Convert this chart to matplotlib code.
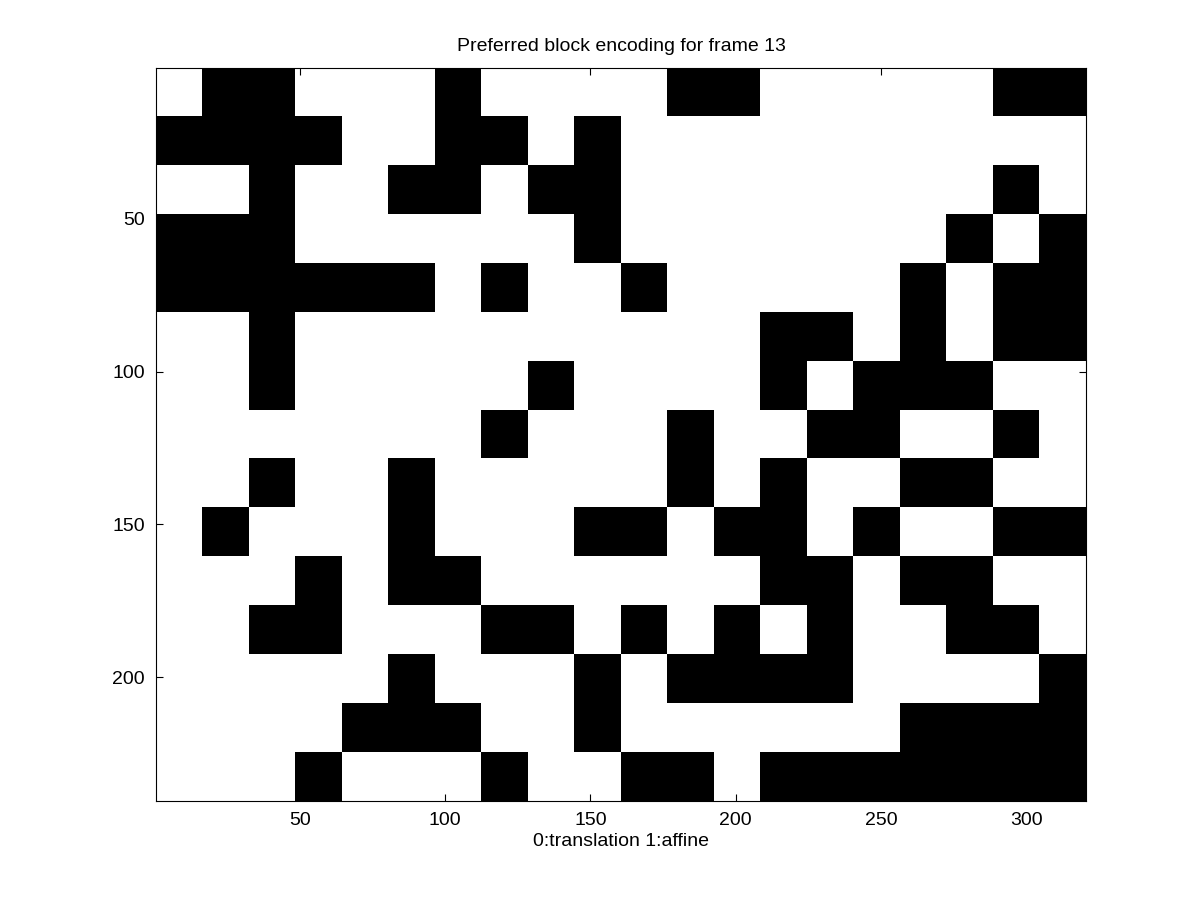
import numpy as np
import matplotlib
matplotlib.use("Agg")
import matplotlib.pyplot as plt

plt.rcParams['font.family'] = ['Liberation Sans', 'DejaVu Sans']

# block decisions per 16x16 block (0 = translation, 1 = affine)
blocks = [
    [0, 1, 1, 0, 0, 0, 1, 0, 0, 0, 0, 1, 1, 0, 0, 0, 0, 0, 1, 1],
    [1, 1, 1, 1, 0, 0, 1, 1, 0, 1, 0, 0, 0, 0, 0, 0, 0, 0, 0, 0],
    [0, 0, 1, 0, 0, 1, 1, 0, 1, 1, 0, 0, 0, 0, 0, 0, 0, 0, 1, 0],
    [1, 1, 1, 0, 0, 0, 0, 0, 0, 1, 0, 0, 0, 0, 0, 0, 0, 1, 0, 1],
    [1, 1, 1, 1, 1, 1, 0, 1, 0, 0, 1, 0, 0, 0, 0, 0, 1, 0, 1, 1],
    [0, 0, 1, 0, 0, 0, 0, 0, 0, 0, 0, 0, 0, 1, 1, 0, 1, 0, 1, 1],
    [0, 0, 1, 0, 0, 0, 0, 0, 1, 0, 0, 0, 0, 1, 0, 1, 1, 1, 0, 0],
    [0, 0, 0, 0, 0, 0, 0, 1, 0, 0, 0, 1, 0, 0, 1, 1, 0, 0, 1, 0],
    [0, 0, 1, 0, 0, 1, 0, 0, 0, 0, 0, 1, 0, 1, 0, 0, 1, 1, 0, 0],
    [0, 1, 0, 0, 0, 1, 0, 0, 0, 1, 1, 0, 1, 1, 0, 1, 0, 0, 1, 1],
    [0, 0, 0, 1, 0, 1, 1, 0, 0, 0, 0, 0, 0, 1, 1, 0, 1, 1, 0, 0],
    [0, 0, 1, 1, 0, 0, 0, 1, 1, 0, 1, 0, 1, 0, 1, 0, 0, 1, 1, 0],
    [0, 0, 0, 0, 0, 1, 0, 0, 0, 1, 0, 1, 1, 1, 1, 0, 0, 0, 0, 1],
    [0, 0, 0, 0, 1, 1, 1, 0, 0, 1, 0, 0, 0, 0, 0, 0, 1, 1, 1, 1],
    [0, 0, 0, 1, 0, 0, 0, 1, 0, 0, 1, 1, 0, 1, 1, 1, 1, 1, 1, 1],
]
block_size = 16
xticks = [50, 100, 150, 200, 250, 300]
yticks = [50, 100, 150, 200]

grid = np.array(blocks)
img = np.kron(grid, np.ones((block_size, block_size)))
h, w = img.shape

fig = plt.figure(figsize=(12, 9), dpi=100)
ax = fig.add_axes([0.13, 0.11, 0.775, 0.815])
ax.imshow(img, cmap="gray_r", vmin=0, vmax=1, interpolation="nearest",
          extent=(0.5, w + 0.5, h + 0.5, 0.5), aspect="auto")

ax.set_xticks(xticks)
ax.set_yticks(yticks)
ax.tick_params(direction="in", top=True, right=True, labelsize=14, length=5, pad=8)
ax.set_title("Preferred block encoding for frame 13", fontsize=14, pad=12)
ax.set_xlabel("0:translation 1:affine", fontsize=14, labelpad=3)

fig.savefig("out.png")
